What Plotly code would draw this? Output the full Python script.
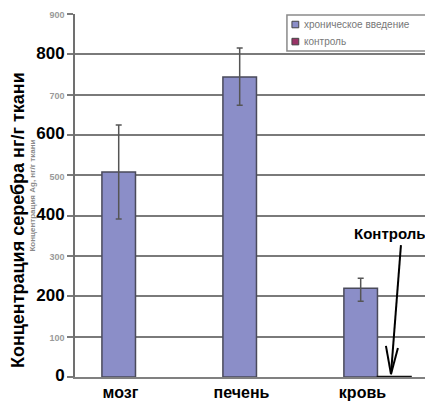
import plotly.graph_objects as go

categories = ["мозг", "печень", "кровь"]
treat_name = "хроническое введение"
ctrl_name = "контроль"
treat_vals = [508, 744, 220]
treat_err_plus = [117, 72, 25]
treat_err_minus = [116, 70, 32]
ctrl_vals = [0, 0, 1.5]
ctrl_outline = [0, 0, 1.5]
y_ticks = [0, 100, 200, 300, 400, 500, 600, 700, 800, 900]
bold_ticks = {0, 200, 400, 600, 800}

treat_color = "#8b8ec8"
ctrl_color = "#993366"

def tick_text(v):
    if v in bold_ticks:
        return f"<span style='font-size:17px;color:#000'><b>{v}</b></span>"
    return f"<span style='font-size:9px;color:#9a9a9a'><b>{v}</b></span>"

fig = go.Figure()
fig.add_trace(go.Bar(
    x=categories, y=treat_vals, name=treat_name,
    marker=dict(color=treat_color, line=dict(color="#4a4a5a", width=1.5)),
    error_y=dict(type="data", array=treat_err_plus, arrayminus=treat_err_minus,
                 color="#555555", thickness=1.5, width=3),
))
fig.add_trace(go.Bar(
    x=categories, y=ctrl_vals, name=ctrl_name,
    marker=dict(color=ctrl_color, line=dict(color="#111111", width=ctrl_outline)),
))

# page body has an 8px default margin, so the figure is sized to fill the rest
fig.update_layout(
    width=425, height=394,
    margin=dict(l=67, r=0, t=6, b=25),
    paper_bgcolor="white", plot_bgcolor="white",
    barmode="group", bargap=0.445, bargroupgap=0,
    font=dict(family="Liberation Sans, Arial, sans-serif", color="#000"),
    showlegend=False,
)
fig.update_xaxes(
    range=[-0.5, 2.459], automargin=False,
    showline=True, linecolor="#808080", linewidth=2,
    showgrid=False, ticks="",
    tickfont=dict(size=16, color="#000"),
    ticktext=[f"<b>{c}</b>" for c in categories], tickvals=categories,
    ticklabelshift=-15, ticklabelstandoff=0,
)
fig.update_yaxes(
    range=[0, 900], automargin=False,
    tickvals=y_ticks, ticktext=[tick_text(v) for v in y_ticks],
    showgrid=True, gridcolor="#7a7a7a", gridwidth=2,
    showline=True, linecolor="#707070", linewidth=2,
    ticks="outside", ticklen=6, tickcolor="#7a7a7a", tickwidth=2,
    zeroline=False,
)

# y-axis titles (bold overlay and faded original)
fig.add_annotation(xref="paper", yref="paper", x=-0.159, y=0.4325,
                   xanchor="center", yanchor="middle",
                   text="<b>Концентрация серебра нг/г ткани</b>", textangle=-90,
                   showarrow=False, font=dict(size=18, color="#000"))
fig.add_annotation(xref="paper", yref="paper", x=-0.12, y=0.50,
                   xanchor="center", yanchor="middle",
                   text="<b>Концентрация Ag, нг/г ткани</b>", textangle=-90,
                   showarrow=False, font=dict(size=8, color="#8a8a8a"))

# legend box (drawn manually to match the compact original legend)
fig.add_shape(type="rect", xref="paper", yref="paper",
              x0=0.592, x1=0.997, y0=0.898, y1=0.997,
              fillcolor="white", line=dict(color="#8a8a8a", width=1.5), layer="above")
legend_items = [(treat_name, treat_color, 0.971), (ctrl_name, ctrl_color, 0.924)]
for name, col, yc in legend_items:
    fig.add_shape(type="rect", xref="paper", yref="paper",
                  x0=0.606, x1=0.625, y0=yc - 0.009, y1=yc + 0.009,
                  fillcolor=col, line=dict(color="#444", width=1), layer="above")
    fig.add_annotation(xref="paper", yref="paper", x=0.634, y=yc,
                       xanchor="left", yanchor="middle", text=name,
                       showarrow=False, font=dict(size=10, color="#777"))

# "Контроль" label with arrow
fig.add_annotation(x=2.103, y=357, xref="x", yref="y", text="<b>Контроль</b>",
                   showarrow=False, font=dict(size=15, color="#000"))
arrow_lines = [
    (2.194, 327, 2.1116, 7),   # shaft
    (2.070, 77, 2.1116, 7),    # left barb
    (2.169, 72, 2.1116, 7),    # right barb
]
for x0, y0, x1, y1 in arrow_lines:
    fig.add_shape(type="line", xref="x", yref="y", x0=x0, y0=y0, x1=x1, y1=y1,
                  line=dict(color="#000", width=2), layer="above")

fig.write_html("out.html")
